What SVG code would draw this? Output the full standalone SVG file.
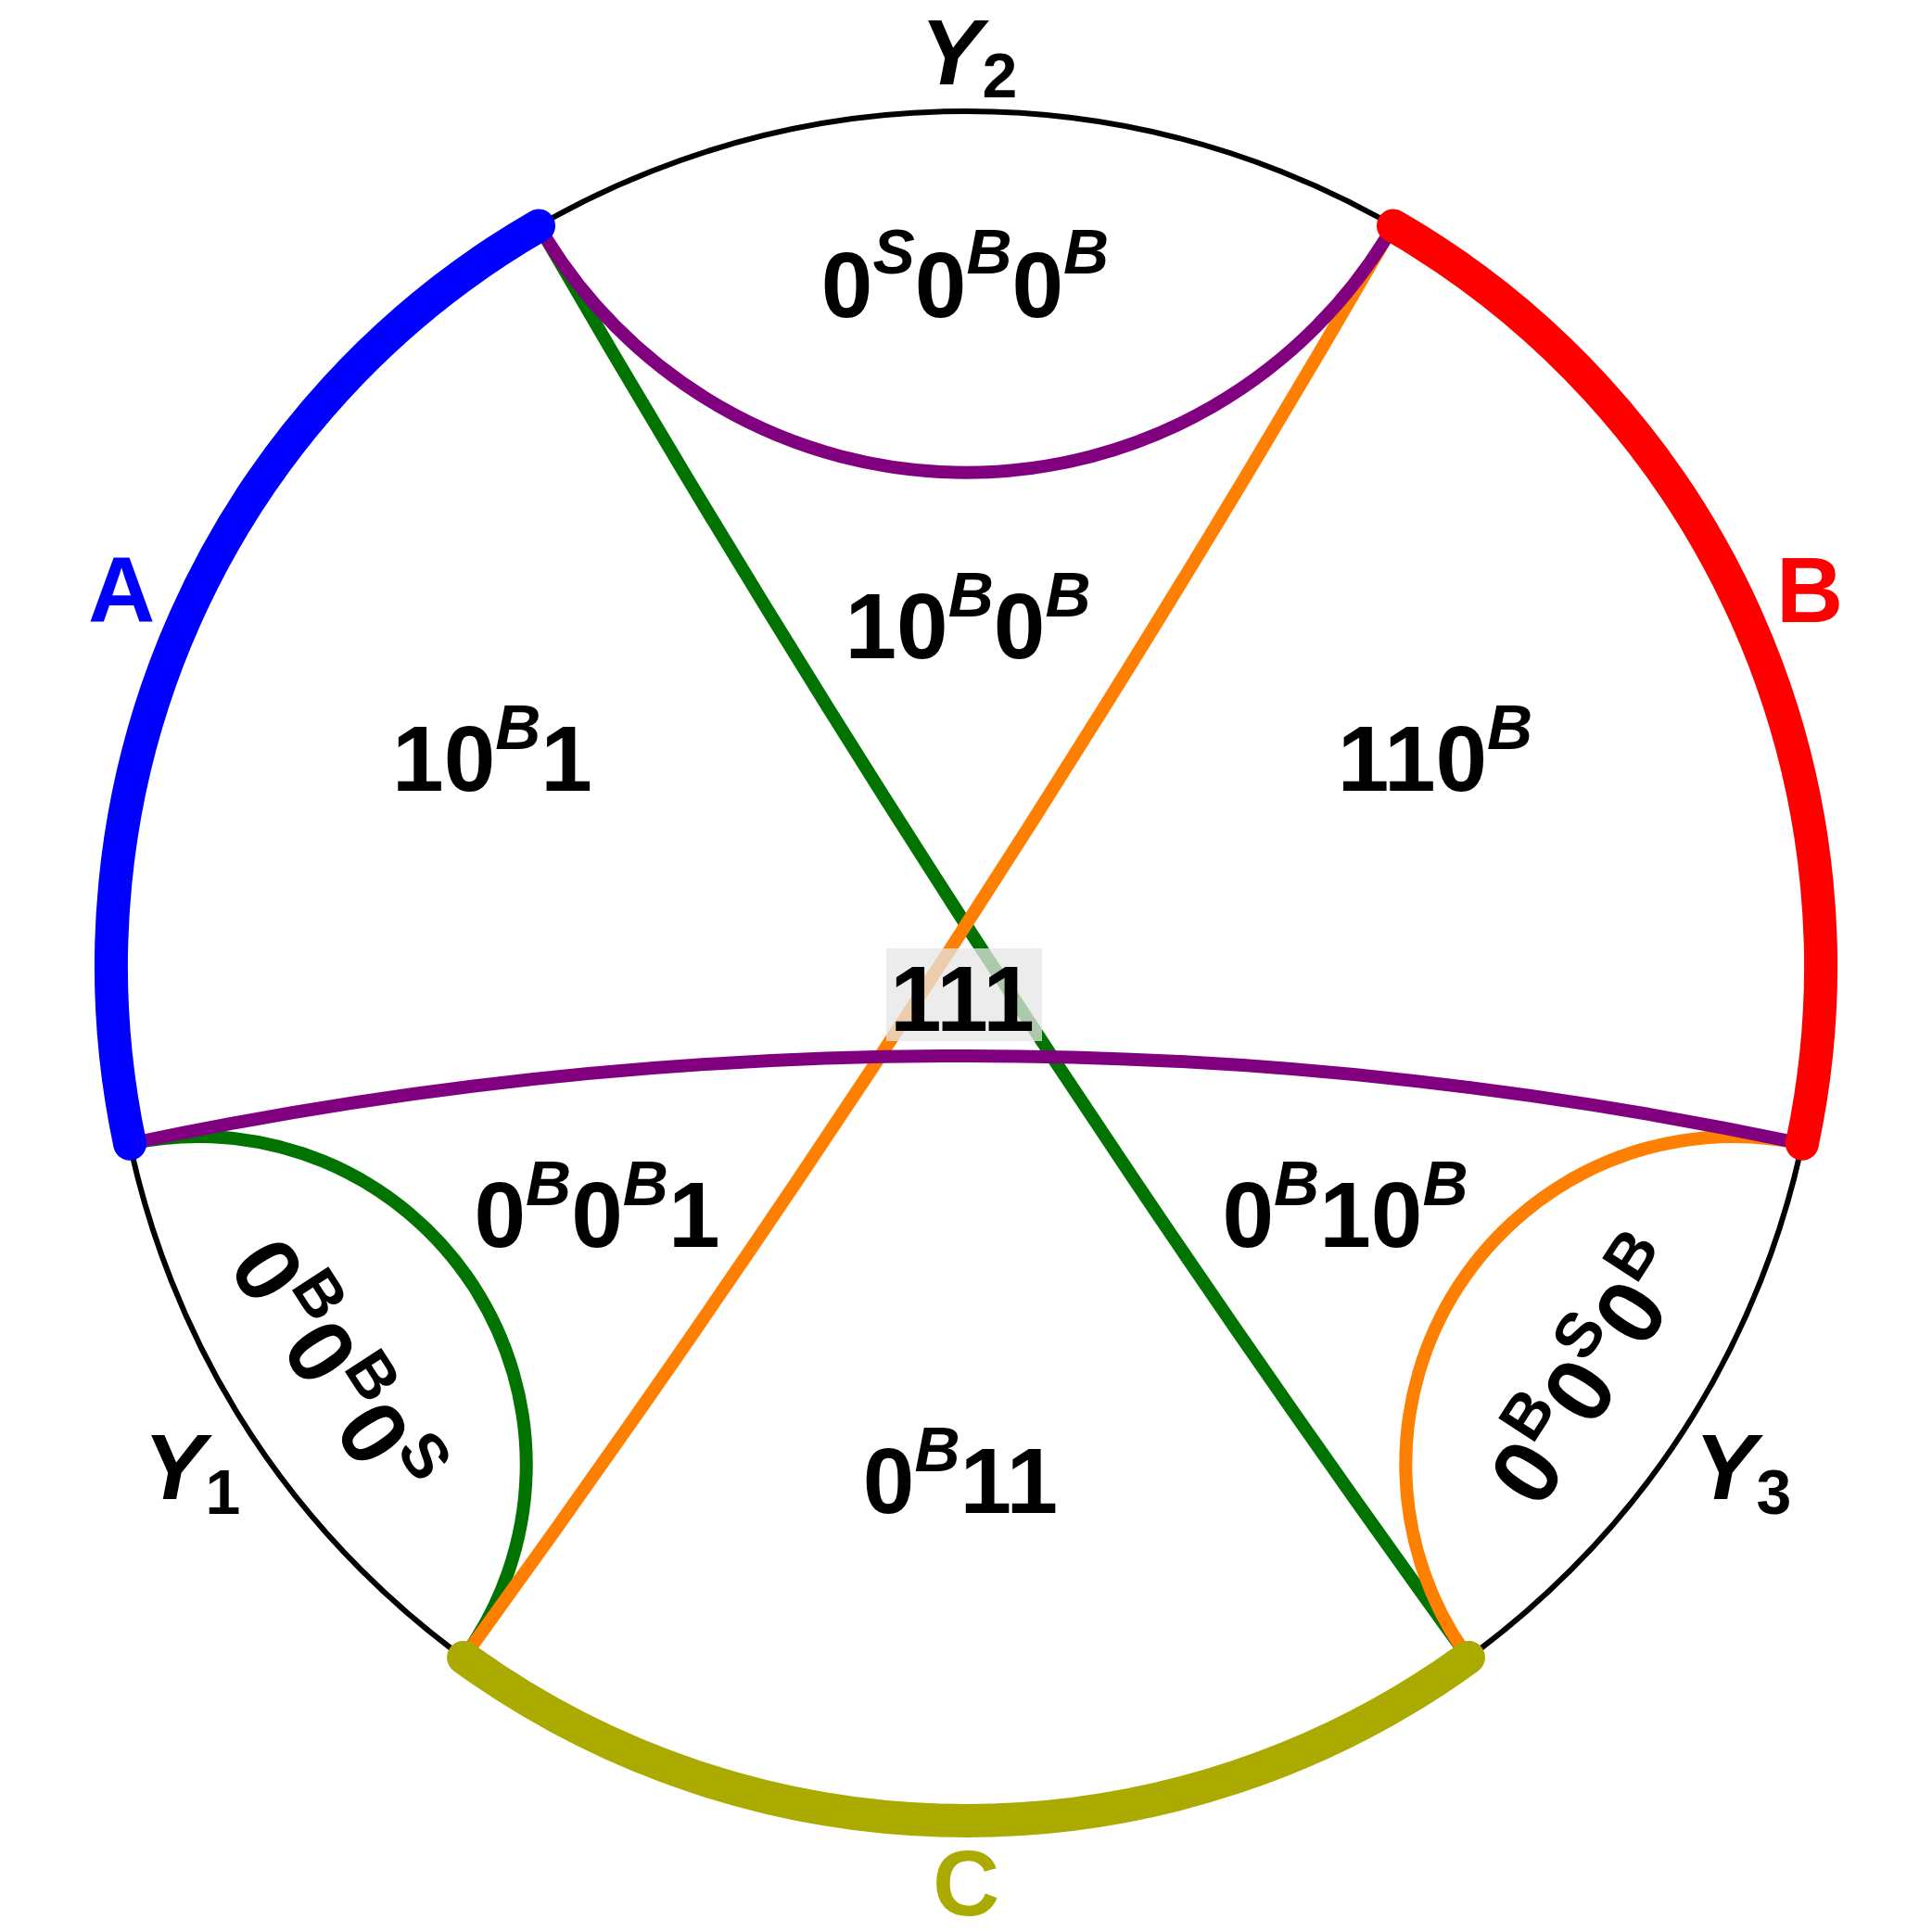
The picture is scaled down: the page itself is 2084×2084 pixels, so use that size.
<svg xmlns="http://www.w3.org/2000/svg" width="2084" height="2084" viewBox="0 0 2084 2084">
<style>
  .t { font-family: "Liberation Sans", Arial, sans-serif; font-weight: bold; font-size: 100px; fill: #000; }
  .sup { font-style: italic; font-size: 68px; }
  .sub { font-size: 68px; }
  .rsup { font-size: 68px; }
  .thin { fill: none; stroke: #000; stroke-width: 6; }
  .geo { fill: none; stroke-width: 14; }
  .thick { fill: none; stroke-width: 36; stroke-linecap: round; }
</style>
<rect width="2084" height="2084" fill="#fff"/>
<g id="connectors">
  <circle class="thin" cx="1042" cy="1042" r="922"/>
  <path class="geo" stroke="#007300" d="M581,243.5 A17593,17593 0 0 0 1583.9,1787.9"/>
  <path class="geo" stroke="#007300" d="M140.1,1233.7 A353.9,353.9 0 0 1 500.1,1787.9"/>
  <path class="geo" stroke="#ff8000" d="M1503,243.5 A17593,17593 0 0 1 500.1,1787.9"/>
  <path class="geo" stroke="#ff8000" d="M1943.9,1233.7 A353.9,353.9 0 0 0 1583.9,1787.9"/>
  <path class="geo" stroke="#800080" d="M581,243.5 A532.3,532.3 0 0 0 1503,243.5"/>
  <path class="geo" stroke="#800080" d="M140.1,1233.7 A4337.6,4337.6 0 0 1 1943.9,1233.7"/>
</g>
<g id="arcA"><path class="thick" stroke="#0000ff" d="M581,243.5 A922,922 0 0 0 140.1,1233.7"/></g>
<g id="arcB"><path class="thick" stroke="#ff0000" d="M1503,243.5 A922,922 0 0 1 1943.9,1233.7"/></g>
<g id="arcC"><path class="thick" stroke="#aaaa00" d="M1583.9,1787.9 A922,922 0 0 1 500.1,1787.9"/></g>
<g id="labels">
  <text class="t" x="131" y="671" text-anchor="middle" style="fill:#0000ff">A</text>
  <text class="t" x="1952" y="671" text-anchor="middle" style="fill:#ff0000">B</text>
  <text class="t" x="1042" y="2066" text-anchor="middle" style="fill:#aaaa00">C</text>
  <text class="t" x="1045" y="91" text-anchor="middle"><tspan font-style="italic">Y</tspan><tspan class="sub" dy="14">2</tspan></text>
  <text class="t" x="207" y="1617" text-anchor="middle"><tspan font-style="italic">Y</tspan><tspan class="sub" dy="16">1</tspan></text>
  <text class="t" x="1880" y="1617" text-anchor="middle"><tspan font-style="italic">Y</tspan><tspan class="sub" dy="16">3</tspan></text>
</g>
<g id="r000">
  <text class="t" x="1041" y="342" text-anchor="middle">0<tspan class="sup" dy="-47">S</tspan><tspan dy="47">0</tspan><tspan class="sup" dy="-47">B</tspan><tspan dy="47">0</tspan><tspan class="sup" dy="-47">B</tspan></text>
</g>
<g id="r100">
  <text class="t" x="1044" y="710" text-anchor="middle">10<tspan class="sup" dy="-45">B</tspan><tspan dy="45">0</tspan><tspan class="sup" dy="-45">B</tspan></text>
</g>
<g id="r101">
  <text class="t" x="531" y="853" text-anchor="middle">10<tspan class="sup" dy="-45">B</tspan><tspan dy="45">1</tspan></text>
</g>
<g id="r110">
  <text class="t" x="1548" y="853" text-anchor="middle">110<tspan class="sup" dy="-45">B</tspan></text>
</g>
<g id="r111">
  <rect x="956" y="1023" width="168" height="100" fill="#e6e6e6" fill-opacity="0.75"/>
  <text class="t" x="1038" y="1112" text-anchor="middle">111</text>
</g>
<g id="r001">
  <text class="t" x="644" y="1345" text-anchor="middle">0<tspan class="sup" dy="-45">B</tspan><tspan dy="45">0</tspan><tspan class="sup" dy="-45">B</tspan><tspan dy="45">1</tspan></text>
</g>
<g id="r010">
  <text class="t" x="1451" y="1345" text-anchor="middle">0<tspan class="sup" dy="-45">B</tspan><tspan dy="45">10</tspan><tspan class="sup" dy="-45">B</tspan></text>
</g>
<g id="r011">
  <text class="t" x="1036" y="1632" text-anchor="middle">0<tspan class="sup" dy="-45">B</tspan><tspan dy="45">11</tspan></text>
</g>
<g id="rY1">
  <text class="t" transform="translate(329,1496) rotate(57)" text-anchor="middle">0<tspan class="rsup" dy="-45">B</tspan><tspan dy="45">0</tspan><tspan class="rsup" dy="-45">B</tspan><tspan dy="45">0</tspan><tspan class="rsup" dy="-45">S</tspan></text>
</g>
<g id="rY3">
  <text class="t" transform="translate(1745,1500) rotate(-57)" text-anchor="middle">0<tspan class="rsup" dy="-45">B</tspan><tspan dy="45">0</tspan><tspan class="rsup" dy="-45">S</tspan><tspan dy="45">0</tspan><tspan class="rsup" dy="-45">B</tspan></text>
</g>
</svg>
